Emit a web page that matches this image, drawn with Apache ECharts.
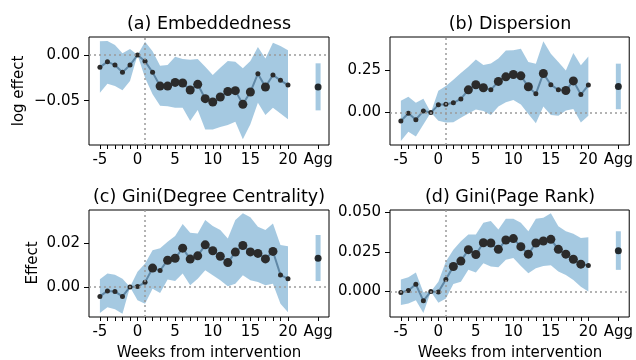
<!DOCTYPE html>
<html>
<head>
<meta charset="utf-8">
<script src="https://cdn.jsdelivr.net/npm/echarts@6/dist/echarts.min.js"></script>
<style>
  html, body { margin: 0; background: #fff; }
  #chart { width: 636px; height: 360px; }
</style>
</head>
<body>
<div id="chart"></div>
<script>
// weeks relative to the intervention, plus the aggregate column
const weeks = [-5, -4, -3, -2, -1, 0, 1, 2, 3, 4, 5, 6, 7, 8, 9, 10, 11, 12, 13, 14, 15, 16, 17, 18, 19, 20];
const aggPos = 24;
const xTickLabels = [-5, 0, 5, 10, 15, 20, 24];

// (a) Embeddedness
const aEst = [-0.0135, -0.0073, -0.0110, -0.0190, -0.0110, 0, -0.0068, -0.0190, -0.0340, -0.0340, -0.0300, -0.0306, -0.0383, -0.0321, -0.0478, -0.0515, -0.0460, -0.0400, -0.0390, -0.0540, -0.0405, -0.0204, -0.0350, -0.0219, -0.0277, -0.0329];
const aHi = [0.0150, 0.0153, 0.0110, 0.0018, 0.0066, 0, 0.0146, 0.0040, -0.0117, -0.0110, -0.0018, -0.0044, -0.0051, -0.0044, -0.0128, -0.0219, -0.0139, -0.0066, -0.0073, -0.0146, -0.0066, 0.0088, -0.0037, 0.0135, 0.0099, 0.0051];
const aLo = [-0.0412, -0.0314, -0.0340, -0.0387, -0.0285, 0, -0.0250, -0.0430, -0.0555, -0.0562, -0.0577, -0.0577, -0.0723, -0.0602, -0.0814, -0.0814, -0.0788, -0.0767, -0.0730, -0.0923, -0.0759, -0.0522, -0.0657, -0.0577, -0.0639, -0.0704];
const aSig = [0, 0, 0, 0, 0, 0, 0, 0, 1, 1, 1, 1, 1, 1, 1, 1, 1, 1, 1, 1, 1, 0, 1, 0, 0, 0];
const aAgg = [-0.0350, -0.0606, -0.0091]; // est, lo, hi

// (b) Dispersion
const bEst = [-0.050, -0.004, -0.042, 0.010, 0, 0.046, 0.050, 0.058, 0.081, 0.135, 0.165, 0.147, 0.135, 0.185, 0.212, 0.226, 0.218, 0.153, 0.111, 0.232, 0.165, 0.135, 0.131, 0.188, 0.107, 0.163];
const bHi = [0.070, 0.094, 0.058, 0.082, 0, 0.130, 0.157, 0.194, 0.234, 0.271, 0.314, 0.282, 0.291, 0.321, 0.368, 0.369, 0.379, 0.300, 0.290, 0.423, 0.349, 0.300, 0.250, 0.353, 0.280, 0.333];
const bLo = [-0.168, -0.113, -0.141, -0.070, 0, -0.049, -0.059, -0.057, -0.030, -0.006, 0.018, 0.009, -0.014, 0.036, 0.062, 0.075, 0.048, -0.008, -0.063, 0.036, -0.014, -0.018, 0.012, 0.022, -0.058, -0.018];
const bSig = [0, 0, 0, 0, 0, 0, 0, 0, 0, 1, 1, 1, 0, 1, 1, 1, 1, 1, 0, 1, 0, 0, 1, 1, 0, 0];
const bAgg = [0.155, 0.020, 0.290];

// (c) Gini(Degree Centrality)
const cEst = [-0.0043, -0.0018, -0.0021, -0.0043, 0, 0.0002, 0.0021, 0.0086, 0.0075, 0.0122, 0.0131, 0.0177, 0.0127, 0.0142, 0.0192, 0.0165, 0.0140, 0.0111, 0.0159, 0.0189, 0.0160, 0.0153, 0.0128, 0.0162, 0.0055, 0.0037];
const cHi = [0.0035, 0.0061, 0.0056, 0.0038, 0, 0.0069, 0.0107, 0.0168, 0.0176, 0.0206, 0.0232, 0.0287, 0.0247, 0.0244, 0.0305, 0.0278, 0.0260, 0.0221, 0.0305, 0.0336, 0.0318, 0.0275, 0.0260, 0.0290, 0.0191, 0.0186];
const cLo = [-0.0119, -0.0092, -0.0102, -0.0122, 0, -0.0061, -0.0076, -0.0008, -0.0027, 0.0034, 0.0027, 0.0061, 0.0008, 0.0038, 0.0076, 0.0053, 0.0031, 0.0003, 0.0015, 0.0053, 0.0031, 0.0023, 0.0008, 0.0015, -0.0076, -0.0115];
const cSig = [0, 0, 0, 0, 0, 0, 0, 1, 0, 1, 1, 1, 1, 1, 1, 1, 1, 1, 1, 1, 1, 1, 1, 1, 0, 0];
const cAgg = [0.0131, 0.0027, 0.0237];

// (d) Gini(Page Rank)
const dEst = [-0.0006, 0.0006, 0.0045, -0.0059, 0, -0.0004, 0.0076, 0.0157, 0.0191, 0.0263, 0.0233, 0.0307, 0.0305, 0.0265, 0.0324, 0.0333, 0.0282, 0.0235, 0.0305, 0.0318, 0.0328, 0.0265, 0.0235, 0.0203, 0.0172, 0.0163];
const dHi = [0.0076, 0.0089, 0.0119, -0.0005, 0, 0.0061, 0.0189, 0.0263, 0.0316, 0.0358, 0.0358, 0.0432, 0.0443, 0.0390, 0.0458, 0.0458, 0.0432, 0.0379, 0.0458, 0.0464, 0.0492, 0.0411, 0.0379, 0.0364, 0.0337, 0.0341];
const dLo = [-0.0085, -0.0076, -0.0055, -0.0136, 0, -0.0072, -0.0045, 0.0047, 0.0061, 0.0136, 0.0119, 0.0178, 0.0157, 0.0153, 0.0199, 0.0210, 0.0161, 0.0114, 0.0146, 0.0161, 0.0165, 0.0125, 0.0104, 0.0072, 0.0030, 0];
const dSig = [0, 0, 0, 0, 0, 0, 0, 1, 1, 1, 1, 1, 1, 1, 1, 1, 1, 1, 1, 1, 1, 1, 1, 1, 1, 0];
const dAgg = [0.0256, 0.0136, 0.0379];

const FONT = 'DejaVu Sans';
const BAND = 'rgba(31,119,180,0.4)';

const panels = [
  { title: '(a) Embeddedness', est: aEst, lo: aLo, hi: aHi, sig: aSig, agg: aAgg,
    yMin: -0.0985, yMax: 0.0197, yTicks: [-0.05, 0], dec: 2, left: 89, top: 37, h: 108, titleY: 24 },
  { title: '(b) Dispersion', est: bEst, lo: bLo, hi: bHi, sig: bSig, agg: bAgg,
    yMin: -0.192, yMax: 0.448, yTicks: [0, 0.25], dec: 2, left: 390, top: 37, h: 108, titleY: 24 },
  { title: '(c) Gini(Degree Centrality)', est: cEst, lo: cLo, hi: cHi, sig: cSig, agg: cAgg,
    yMin: -0.0137, yMax: 0.0351, yTicks: [0, 0.02], dec: 2, left: 89, top: 210, h: 107, titleY: 197 },
  { title: '(d) Gini(Page Rank)', est: dEst, lo: dLo, hi: dHi, sig: dSig, agg: dAgg,
    yMin: -0.0161, yMax: 0.0513, yTicks: [0, 0.025, 0.05], dec: 3, left: 390, top: 210, h: 107, titleY: 197 }
];

const W = 240;
const grids = [], xAxes = [], yAxes = [], series = [], texts = [];

panels.forEach((p, i) => {
  grids.push({ left: p.left, top: p.top, width: W, height: p.h, show: true,
    borderColor: '#000', borderWidth: 1, backgroundColor: 'transparent' });

  xAxes.push({
    gridIndex: i, type: 'value', min: -6.45, max: 25.45, position: 'bottom',
    axisLine: { show: false, onZero: false }, splitLine: { show: false },
    axisTick: { show: true, customValues: weeks.concat([aggPos]), length: 4, lineStyle: { color: '#000' } },
    axisLabel: { customValues: xTickLabels, margin: 8, fontSize: 15, fontFamily: FONT, color: '#000',
      formatter: v => (v === aggPos ? 'Agg' : String(v)) }
  });

  yAxes.push({
    gridIndex: i, type: 'value', min: p.yMin, max: p.yMax, position: 'left',
    axisLine: { show: false, onZero: false }, splitLine: { show: false },
    axisTick: { show: true, customValues: p.yTicks, length: 5, lineStyle: { color: '#000' } },
    axisLabel: { customValues: p.yTicks, margin: 9, fontSize: 15, fontFamily: FONT, color: '#000',
      formatter: v => (v < 0 ? '\u2212' : '') + Math.abs(v).toFixed(p.dec) }
  });

  // confidence band
  series.push({
    type: 'custom', xAxisIndex: i, yAxisIndex: i, silent: true, z: 1,
    data: weeks.map((w, k) => [w, p.lo[k], p.hi[k]]),
    encode: { x: 0, y: [1, 2] },
    renderItem: (params, api) => {
      if (params.dataIndex !== 0) return;
      const pts = [];
      weeks.forEach((w, k) => pts.push(api.coord([w, p.hi[k]])));
      for (let k = weeks.length - 1; k >= 0; k--) pts.push(api.coord([weeks[k], p.lo[k]]));
      return { type: 'polygon', shape: { points: pts }, style: { fill: BAND } };
    }
  });

  // aggregate interval bar
  series.push({
    type: 'custom', xAxisIndex: i, yAxisIndex: i, silent: true, z: 1,
    data: [[aggPos, p.agg[1], p.agg[2]]],
    encode: { x: 0, y: [1, 2] },
    renderItem: (params, api) => {
      const t = api.coord([api.value(0), api.value(2)]);
      const b = api.coord([api.value(0), api.value(1)]);
      return { type: 'rect', shape: { x: t[0] - 2.5, y: t[1], width: 5, height: b[1] - t[1] }, style: { fill: BAND } };
    }
  });

  // aggregate point + reference lines
  series.push({
    type: 'scatter', xAxisIndex: i, yAxisIndex: i, z: 2,
    data: [[aggPos, p.agg[0]]], symbolSize: 7, itemStyle: { color: '#000' },
    markLine: {
      silent: true, symbol: 'none', label: { show: false },
      lineStyle: { type: [2, 3], color: '#9a9a9a', width: 1.5 },
      data: [{ yAxis: 0 }, { xAxis: 1 }]
    }
  });

  // weekly estimates
  series.push({
    type: 'line', xAxisIndex: i, yAxisIndex: i, z: 3,
    data: weeks.map((w, k) => [w, p.est[k]]),
    symbol: 'circle',
    symbolSize: (v, prm) => (p.sig[prm.dataIndex] ? 9 : 5),
    lineStyle: { color: '#6088a6', width: 2 },
    itemStyle: { color: '#2b2b2b', borderWidth: 0 }
  });

  texts.push({ type: 'text', x: p.left + W / 2, y: p.titleY,
    style: { text: p.title, fontSize: 17.5, fontFamily: FONT, fill: '#000', align: 'center', verticalAlign: 'middle' } });
});

texts.push({ type: 'text', x: 19, y: 91, rotation: Math.PI / 2,
  style: { text: 'log effect', fontSize: 15, fontFamily: FONT, fill: '#000', align: 'center', verticalAlign: 'middle' } });
texts.push({ type: 'text', x: 33, y: 263, rotation: Math.PI / 2,
  style: { text: 'Effect', fontSize: 15, fontFamily: FONT, fill: '#000', align: 'center', verticalAlign: 'middle' } });
texts.push({ type: 'text', x: 209, y: 353,
  style: { text: 'Weeks from intervention', fontSize: 15, fontFamily: FONT, fill: '#000', align: 'center', verticalAlign: 'middle' } });
texts.push({ type: 'text', x: 510, y: 353,
  style: { text: 'Weeks from intervention', fontSize: 15, fontFamily: FONT, fill: '#000', align: 'center', verticalAlign: 'middle' } });

const chart = echarts.init(document.getElementById('chart'));
chart.setOption({
  animation: false,
  backgroundColor: '#fff',
  grid: grids,
  xAxis: xAxes,
  yAxis: yAxes,
  series: series,
  graphic: { elements: texts }
});
</script>
</body>
</html>
